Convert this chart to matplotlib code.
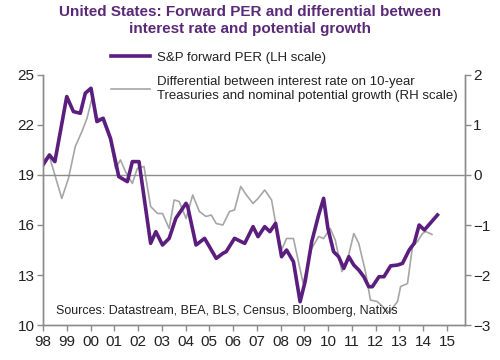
import matplotlib.pyplot as plt
from matplotlib.lines import Line2D

plt.rcParams["font.family"] = ["Liberation Sans", "DejaVu Sans"]

# ── Data ─────────────────────────────────────────────────────────────────────
per_t = [1998.0, 1998.27, 1998.5, 1999.0, 1999.28, 1999.57, 1999.78, 2000.02,
         2000.27, 2000.53, 2000.84, 2001.19, 2001.55, 2001.76, 2002.04, 2002.53,
         2002.75, 2003.03, 2003.31, 2003.59, 2004.02, 2004.09, 2004.44, 2004.8,
         2005.29, 2005.57, 2005.71, 2006.06, 2006.49, 2006.84, 2007.05, 2007.33,
         2007.55, 2007.79, 2008.04, 2008.25, 2008.54, 2008.82, 2009.03, 2009.31,
         2009.6, 2009.81, 2009.99, 2010.23, 2010.44, 2010.66, 2010.87, 2011.08,
         2011.29, 2011.5, 2011.71, 2011.86, 2012.14, 2012.35, 2012.63, 2012.92,
         2013.13, 2013.41, 2013.62, 2013.83, 2014.05, 2014.6]
per_v = [19.6, 20.2, 19.8, 23.7, 22.8, 22.7, 23.9, 24.2,
         22.2, 22.4, 21.2, 18.9, 18.6, 19.8, 19.8, 14.9,
         15.6, 14.8, 15.2, 16.4, 17.3, 17.1, 14.8, 15.2,
         14.0, 14.3, 14.4, 15.2, 14.9, 15.9, 15.3, 15.9,
         15.6, 16.1, 14.1, 14.5, 13.8, 11.4, 12.6, 15.0,
         16.6, 17.6, 15.8, 14.4, 14.1, 13.4, 14.1, 13.6,
         13.3, 12.9, 12.3, 12.3, 12.9, 12.9, 13.55, 13.6,
         13.7, 14.5, 14.9, 16.0, 15.7, 16.6]

diff_t = [1998.0, 1998.27, 1998.5, 1998.79, 1999.07, 1999.36, 1999.64, 1999.85,
          2000.06, 2000.27, 2000.49, 2000.84, 2001.05, 2001.26, 2001.47, 2001.76,
          2001.97, 2002.25, 2002.53, 2002.82, 2003.03, 2003.31, 2003.52, 2003.73,
          2004.02, 2004.3, 2004.58, 2004.86, 2005.08, 2005.29, 2005.57, 2005.85,
          2006.06, 2006.32, 2006.56, 2006.84, 2007.05, 2007.33, 2007.62, 2007.83,
          2008.04, 2008.25, 2008.54, 2008.95, 2009.31, 2009.6, 2009.81, 2010.09,
          2010.3, 2010.58, 2010.8, 2011.08, 2011.29, 2011.57, 2011.78, 2012.07,
          2012.56, 2012.92, 2013.05, 2013.34, 2013.55, 2013.76, 2013.97, 2014.11,
          2014.37]
diff_v = [0.30, 0.37, 0.0, -0.47, -0.07, 0.57, 0.87, 1.13,
          1.53, 1.13, 1.13, 0.67, 0.13, 0.30, 0.07, -0.17,
          0.13, 0.17, -0.63, -0.77, -0.77, -1.07, -0.50, -0.53,
          -0.87, -0.40, -0.73, -0.83, -0.80, -0.97, -1.0, -0.73,
          -0.70, -0.23, -0.40, -0.57, -0.47, -0.30, -0.50, -1.07,
          -1.50, -1.27, -1.27, -2.17, -1.47, -1.23, -1.27, -1.07,
          -1.30, -1.93, -1.73, -1.17, -1.37, -1.93, -2.50, -2.53,
          -2.75, -2.53, -2.23, -2.17, -1.43, -1.33, -1.17, -1.13,
          -1.19]

year_ticks = list(range(1998, 2016))
year_labels = [f"{y % 100:02d}" for y in year_ticks]
left_ticks = [10, 13, 16, 19, 22, 25]
right_ticks = [-3, -2, -1, 0, 1, 2]

PURPLE = "#5b1e7e"
GREY = "#a6a6a6"
AXIS = "#8c8c8c"
TITLE = "#5a2a78"

# ── Plot ─────────────────────────────────────────────────────────────────────
fig = plt.figure(figsize=(5, 3.6), dpi=100, facecolor="white")
ax = fig.add_axes([0.086, 0.097, 0.844, 0.695])
ax2 = ax.twinx()
ax.set_zorder(ax2.get_zorder() + 1)
ax.patch.set_visible(False)

ax2.plot(diff_t, diff_v, color=GREY, lw=1.2)
ax.plot(per_t, per_v, color=PURPLE, lw=2.6)
ax.axhline(19, color=AXIS, lw=1.0, zorder=0)

ax.set_xlim(1998, 2015.76)
ax.set_ylim(10, 25)
ax2.set_ylim(-3, 2)
ax.set_xticks(year_ticks)
ax.set_xticklabels(year_labels)
ax.set_yticks(left_ticks)
ax2.set_yticks(right_ticks)

for a in (ax, ax2):
    a.spines["top"].set_visible(False)
    for s in ("left", "right", "bottom"):
        a.spines[s].set_color(AXIS)
        a.spines[s].set_linewidth(1.0)
    a.tick_params(colors=AXIS, labelcolor="#222222", labelsize=11,
                  length=4, width=1.0, direction="out", pad=2)
ax.tick_params(axis="x", pad=3)

fig.suptitle("United States: Forward PER and differential between\n"
             "interest rate and potential growth",
             x=0.5, y=0.985, fontsize=11, fontweight="bold", color=TITLE,
             linespacing=1.2)

handles = [Line2D([], [], color=PURPLE, lw=2.6),
           Line2D([], [], color=GREY, lw=1.2)]
labels = ["S&P forward PER (LH scale)",
          "Differential between interest rate on 10-year\n"
          "Treasuries and nominal potential growth (RH scale)"]
fig.legend(handles, labels, loc="upper left",
           bbox_to_anchor=(0.208, 0.875), frameon=False, fontsize=9.5,
           handlelength=3.0, handletextpad=0.5, labelspacing=0.95,
           borderpad=0, labelcolor="#222222")

ax.text(0.03, 0.045, "Sources: Datastream, BEA, BLS, Census, Bloomberg, Natixis",
        transform=ax.transAxes, fontsize=9, color="#222222")

fig.savefig("out.png", dpi=100, facecolor="white")
